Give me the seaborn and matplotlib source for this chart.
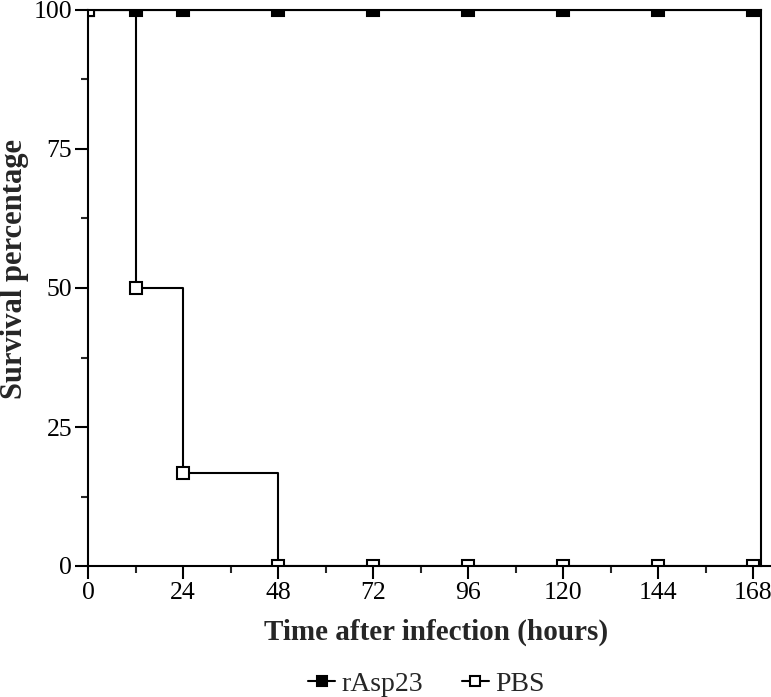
import matplotlib
matplotlib.use("Agg")
import matplotlib.pyplot as plt
from matplotlib.ticker import MultipleLocator
import seaborn as sns
import pandas as pd

# survival data
time_h = [0, 12, 24, 48, 72, 96, 120, 144, 168]
rasp23_surv = [100, 100, 100, 100, 100, 100, 100, 100, 100]
pbs_surv = [100, 50, 16.7, 0, 0, 0, 0, 0, 0]
x_ticks = [0, 24, 48, 72, 96, 120, 144, 168]
y_ticks = [0, 25, 50, 75, 100]

sns.set_style("ticks")
plt.rcParams["font.family"] = ["Liberation Serif", "DejaVu Serif"]

df_r = pd.DataFrame({"time": time_h, "survival": rasp23_surv})
df_p = pd.DataFrame({"time": time_h, "survival": pbs_surv})

fig = plt.figure(figsize=(7.71, 6.97), dpi=100)
ax = fig.add_axes([88 / 771, 1 - 566 / 697, 1 - 88 / 771, (566 - 10) / 697])

lw = 1.5
sns.lineplot(data=df_r, x="time", y="survival", ax=ax, color="black",
             drawstyle="steps-post", marker="s", markersize=8.5,
             markerfacecolor="black", markeredgecolor="black",
             markeredgewidth=1.5, linewidth=lw, label="rAsp23")
sns.lineplot(data=df_p, x="time", y="survival", ax=ax, color="black",
             drawstyle="steps-post", marker="s", markersize=8.5,
             markerfacecolor="white", markeredgecolor="black",
             markeredgewidth=1.5, linewidth=lw, label="PBS")

ax.set_xlim(0, 172.5)
ax.set_ylim(0, 100)
ax.set_xticks(x_ticks)
ax.set_yticks(y_ticks)
ax.xaxis.set_minor_locator(MultipleLocator(12))
ax.yaxis.set_minor_locator(MultipleLocator(12.5))
ax.tick_params(axis="both", which="major", direction="out", length=9.5,
               width=1.5, labelsize=18.5, pad=2, colors="black")
ax.tick_params(axis="both", which="minor", direction="out", length=5,
               width=1.5)

# frame: left and bottom axes, top and right closed at x=170
for side in ["left", "bottom", "top", "right"]:
    ax.spines[side].set_linewidth(1.5)
    ax.spines[side].set_color("black")
ax.spines["top"].set_bounds(0, 170)
ax.spines["right"].set_position(("data", 170))

ax.set_xlabel("Time after infection (hours)", fontsize=21, fontweight="bold")
ax.xaxis.set_label_coords((436 - 88) / 683, -0.095)
ax.set_ylabel("Survival percentage", fontsize=22, fontweight="bold")
ax.yaxis.set_label_coords(-0.087, 0.535)

handles, labels = ax.get_legend_handles_labels()
ax.get_legend().remove()
fig.legend(handles, labels, loc="center", bbox_to_anchor=(426 / 771, 1 - 684 / 697),
           ncol=2, frameon=False, fontsize=20, handlelength=1.0,
           handletextpad=0.2, columnspacing=1.4, markerscale=0.85)

fig.savefig("out.png", dpi=100)
